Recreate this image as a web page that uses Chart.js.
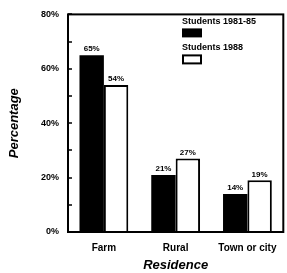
<!DOCTYPE html>
<html><head><meta charset="utf-8">
<script src="https://cdn.jsdelivr.net/npm/chart.js@4/dist/chart.umd.min.js"></script>
<style>html,body{margin:0;padding:0;background:#fff}#wrap{width:287px;height:273px}</style>
</head><body><div id="wrap"><canvas id="c" width="287" height="273"></canvas></div>
<script>
const categories = ["Farm", "Rural", "Town or city"];
const series1Name = "Students 1981-85";
const series2Name = "Students 1988";
const series1 = [65, 21, 14];
const series2 = [54, 27, 19];
const yTicks = [0, 20, 40, 60, 80];
const minorTicks = [10, 30, 50, 70];

const FONT = "'Liberation Sans', Arial, sans-serif";

const framePlugin = {
  id: 'frame',
  afterDatasetsDraw(chart) {
    const {ctx, chartArea: a} = chart;
    const y = chart.scales.y;
    ctx.save();
    ctx.strokeStyle = '#000';
    ctx.lineWidth = 2;
    ctx.strokeRect(a.left, a.top, a.right - a.left, a.bottom - a.top);
    ctx.lineWidth = 1.5;
    [...yTicks, ...minorTicks].forEach(v => {
      const py = Math.round(y.getPixelForValue(v));
      ctx.beginPath(); ctx.moveTo(a.left, py); ctx.lineTo(a.left + 4, py); ctx.stroke();
    });
    // value labels
    ctx.fillStyle = '#000';
    ctx.font = "bold 8px " + FONT;
    ctx.textAlign = 'center';
    ctx.textBaseline = 'bottom';
    chart.data.datasets.forEach((ds, di) => {
      chart.getDatasetMeta(di).data.forEach((el, i) => {
        ctx.fillText(ds.data[i] + '%', el.x, el.y - 2);
      });
    });
    // legend
    const lx = a.left + 114;
    ctx.font = "bold 9px " + FONT;
    ctx.textAlign = 'left';
    ctx.textBaseline = 'middle';
    ctx.fillText(series1Name, lx, a.top + 7);
    ctx.fillRect(lx, a.top + 14, 20, 9);
    ctx.fillText(series2Name, lx, a.top + 33);
    ctx.fillStyle = '#fff';
    ctx.lineWidth = 2;
    ctx.fillRect(lx + 1, a.top + 41, 18, 8);
    ctx.strokeRect(lx + 1, a.top + 41, 18, 8);
    ctx.restore();
  }
};

new Chart(document.getElementById('c'), {
  type: 'bar',
  data: {
    labels: categories,
    datasets: [
      { label: series1Name, data: series1, backgroundColor: '#000', borderWidth: 0 },
      { label: series2Name, data: series2, backgroundColor: '#fff', borderColor: '#000', borderWidth: 2, borderSkipped: 'bottom' }
    ]
  },
  options: {
    responsive: false,
    animation: false,
    devicePixelRatio: 1,
    layout: { padding: { top: 14, right: 3, left: 0, bottom: 0 } },
    plugins: { legend: { display: false }, tooltip: { enabled: false } },
    datasets: { bar: { categoryPercentage: 0.68, barPercentage: 1 } },
    scales: {
      x: {
        grid: { display: false, drawTicks: false },
        border: { display: false },
        ticks: { color: '#000', font: { family: FONT, size: 10, weight: 'bold' }, padding: 10, maxRotation: 0, autoSkip: false },
        title: { display: true, text: 'Residence', color: '#000', font: { family: FONT, size: 13, weight: 'bold', style: 'italic' }, padding: { top: 2, bottom: 0 } },
        afterFit: s => { s.height = 41; }
      },
      y: {
        min: 0, max: 80,
        afterBuildTicks: s => { s.ticks = yTicks.map(v => ({ value: v })); },
        grid: { display: false, drawTicks: false },
        border: { display: false },
        ticks: { color: '#000', font: { family: FONT, size: 9, weight: 'bold' }, padding: 9, callback: v => v + '%' },
        title: { display: true, text: 'Percentage', color: '#000', font: { family: FONT, size: 13, weight: 'bold', style: 'italic' }, padding: { top: 7, bottom: 4 } },
        afterFit: s => { s.width = 68; }
      }
    }
  },
  plugins: [framePlugin]
});
</script></body></html>
